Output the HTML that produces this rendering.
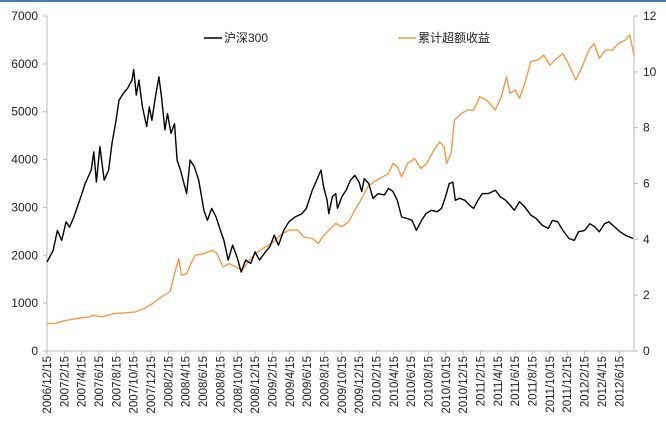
<!DOCTYPE html>
<html><head><meta charset="utf-8"><style>
body{margin:0;background:#fff;}
svg{display:block;font-family:"Liberation Sans","Noto Sans CJK SC",sans-serif;}
</style></head><body>
<svg id="chart" width="666" height="423" viewBox="0 0 666 423">
<rect x="0" y="0" width="666" height="2" fill="#4f7aa8"/>
<g id="axes"></g>
<g id="series"></g>
<g>
<line x1="204" y1="38" x2="222" y2="38" stroke="#000" stroke-width="1.5"/>
<text x="224" y="42" font-size="12" fill="#222">沪深300</text>
<line x1="398" y1="38" x2="416" y2="38" stroke="#f39a4a" stroke-width="1.5"/>
<text x="418" y="42" font-size="12" fill="#222">累计超额收益</text>
</g>
</svg>
<script>
const tickLabels=["2006/12/15","2007/2/15","2007/4/15","2007/6/15","2007/8/15","2007/10/15","2007/12/15","2008/2/15","2008/4/15","2008/6/15","2008/8/15","2008/10/15","2008/12/15","2009/2/15","2009/4/15","2009/6/15","2009/8/15","2009/10/15","2009/12/15","2010/2/15","2010/4/15","2010/6/15","2010/8/15","2010/10/15","2010/12/15","2011/2/15","2011/4/15","2011/6/15","2011/8/15","2011/10/15","2011/12/15","2012/2/15","2012/4/15","2012/6/15"];
const leftTicks=[0,1000,2000,3000,4000,5000,6000,7000];
const rightTicks=[0,2,4,6,8,10,12];
const csiMonths=[0,0.7,1.2,1.7,2.2,2.6,3.1,3.9,4.4,5.1,5.4,5.7,6.1,6.6,7.1,7.5,7.9,8.3,8.8,9.3,9.8,10.0,10.3,10.6,11.0,11.5,11.8,12.1,12.5,12.9,13.2,13.6,13.9,14.3,14.7,15.0,15.4,15.7,16.1,16.5,17.0,17.5,18.1,18.5,19.0,19.5,20.0,20.4,20.9,21.4,21.9,22.4,22.9,23.5,24.0,24.5,25.2,25.7,26.2,26.7,27.3,27.9,28.6,29.4,29.9,30.6,31.1,31.6,31.9,32.3,32.5,32.9,33.3,33.5,34.0,34.5,35.0,35.5,36.0,36.3,36.6,37.1,37.6,38.2,38.9,39.4,39.9,40.4,40.9,41.5,42.1,42.6,43.2,43.7,44.3,45.0,45.5,45.9,46.4,46.8,47.1,47.6,48.2,48.7,49.2,49.7,50.2,50.9,51.7,52.3,52.9,53.4,53.9,54.5,55.1,55.8,56.4,57.1,57.8,58.3,58.9,59.5,60.2,60.8,61.3,62.0,62.6,63.2,63.7,64.3,64.8,65.5,66.1,66.7,67.6];
const csiValues=[1860,2100,2520,2310,2700,2590,2800,3220,3500,3780,4160,3530,4270,3570,3780,4340,4750,5240,5380,5490,5660,5880,5350,5660,5100,4690,5100,4820,5310,5730,5310,4620,4960,4550,4750,3990,3780,3570,3290,3990,3850,3570,2940,2730,2980,2800,2520,2310,1900,2210,1970,1650,1900,1830,2070,1900,2070,2180,2420,2210,2520,2700,2800,2870,2980,3360,3570,3780,3430,3150,2870,3220,3290,2980,3220,3360,3570,3670,3530,3330,3600,3500,3190,3290,3260,3400,3330,3150,2800,2770,2730,2520,2730,2870,2940,2910,2980,3190,3500,3530,3150,3190,3150,3050,2980,3150,3290,3290,3360,3220,3150,3050,2940,3120,3010,2840,2770,2630,2560,2730,2700,2520,2350,2310,2490,2520,2660,2590,2490,2660,2700,2590,2490,2420,2350];
const exMonths=[0,0.9,1.9,3.4,4.9,5.4,6.3,7.8,8.8,10.2,11.2,12.2,13.2,14.2,14.7,15.2,15.5,16.1,16.6,17.1,18.1,19.1,19.6,20.3,21.0,21.8,22.5,23.2,24.0,24.9,25.9,26.9,27.9,28.9,29.6,30.6,31.3,31.8,32.5,33.3,34.0,34.8,35.5,36.3,37.0,37.7,38.7,39.4,39.9,40.4,40.9,41.6,42.4,43.1,43.8,44.6,45.3,45.8,46.1,46.6,47.0,47.8,48.5,49.2,49.9,50.7,51.7,52.4,53.0,53.4,54.0,54.5,55.1,55.8,56.6,57.3,58.0,58.8,59.5,60.2,61.0,61.7,62.5,63.1,63.7,64.4,65.2,65.9,66.7,67.2,67.7];
const exValues=[0.98,0.98,1.08,1.16,1.22,1.28,1.22,1.34,1.36,1.40,1.52,1.70,1.94,2.12,2.77,3.31,2.71,2.77,3.13,3.43,3.49,3.61,3.49,3.01,3.13,3.01,2.89,3.19,3.49,3.67,3.85,4.15,4.33,4.33,4.09,4.03,3.85,4.09,4.33,4.57,4.45,4.63,5.04,5.46,5.88,6.06,6.24,6.36,6.72,6.60,6.24,6.72,6.90,6.54,6.72,7.19,7.49,7.31,6.72,7.08,8.27,8.51,8.63,8.63,9.11,8.99,8.63,9.11,9.82,9.23,9.35,9.05,9.59,10.36,10.42,10.60,10.24,10.48,10.66,10.24,9.71,10.18,10.78,11.02,10.48,10.78,10.78,11.02,11.14,11.32,10.60];

const NS="http://www.w3.org/2000/svg";
const X0=47,Y0=351,YT=16,XMAX=634,MMAX=67.7;
const xs=m=>X0+m*(XMAX-X0)/MMAX;
const yl=v=>Y0-v*(Y0-YT)/7000;
const yr=v=>Y0-v*(Y0-YT)/12;
function mk(tag,attrs,parent){const e=document.createElementNS(NS,tag);for(const k in attrs)e.setAttribute(k,attrs[k]);parent.appendChild(e);return e;}
const axes=document.getElementById('axes');
const series=document.getElementById('series');

let a=mk('line',{x1:X0,y1:YT,x2:X0,y2:Y0,stroke:'#bbb'},axes);


a=mk('line',{x1:XMAX,y1:YT,x2:XMAX,y2:Y0,stroke:'#bbb'},axes);


a=mk('line',{x1:X0,y1:Y0,x2:XMAX,y2:Y0,stroke:'#bbb'},axes);



leftTicks.forEach(v=>{
  const y=yl(v);
  mk('line',{x1:X0-4,y1:y,x2:X0,y2:y,stroke:'#bbb'},axes);
  const t=mk('text',{x:38,y:y+4,'font-size':12,'text-anchor':'end',fill:'#222'},axes);
  t.textContent=v;
  
  
});
rightTicks.forEach(v=>{
  const y=yr(v);
  mk('line',{x1:XMAX,y1:y,x2:XMAX+4,y2:y,stroke:'#bbb'},axes);
  const t=mk('text',{x:643,y:y+4,'font-size':12,fill:'#222'},axes);
  t.textContent=v;
  
  
});
tickLabels.forEach((s,i)=>{
  const x=xs(i*2);
  mk('line',{x1:x,y1:Y0,x2:x,y2:Y0+4,stroke:'#bbb'},axes);
  const t=mk('text',{x:0,y:0,'font-size':11.5,'text-anchor':'end',fill:'#222',transform:`translate(${x+4},${Y0+5}) rotate(-90)`},axes);
  t.textContent=s;
  
  
});

let p=mk('polyline',{points:exMonths.map((m,i)=>xs(m).toFixed(1)+','+yr(exValues[i]).toFixed(1)).join(' '),fill:'none',stroke:'#f39a4a','stroke-width':1.4,'stroke-linejoin':'round'},series);


p=mk('polyline',{points:csiMonths.map((m,i)=>xs(m).toFixed(1)+','+yl(csiValues[i]).toFixed(1)).join(' '),fill:'none',stroke:'#000','stroke-width':1.4,'stroke-linejoin':'round'},series);


</script>
</body></html>
